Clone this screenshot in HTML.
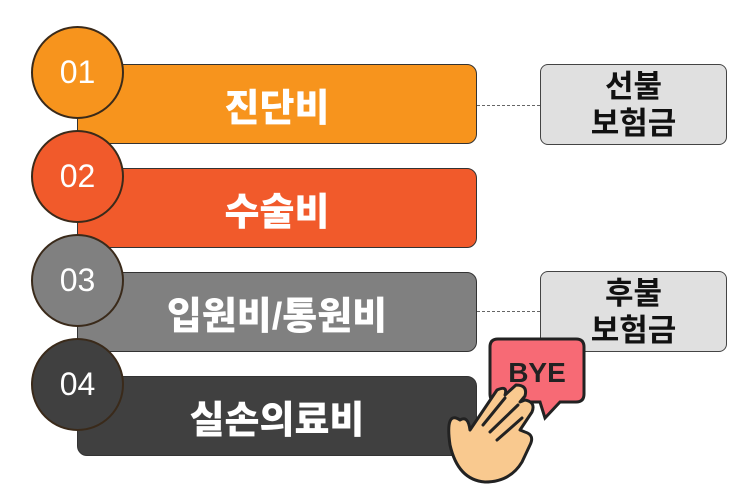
<!DOCTYPE html>
<html><head><meta charset="utf-8"><style>
body{margin:0;width:743px;height:499px;background:#fff;overflow:hidden;position:relative;font-family:"Liberation Sans","Noto Sans CJK KR",sans-serif}
.bar{position:absolute;left:77px;width:400px;height:80px;border:1.5px solid #333;border-radius:10px;box-sizing:border-box;color:#fff;font-weight:900;font-size:38px;display:flex;align-items:center;justify-content:center;padding-left:0}
.c{position:absolute;left:31px;width:93px;height:93px;border-radius:50%;border:2px solid #3a2a1a;box-sizing:border-box;color:#fff;font-size:32px;display:flex;align-items:center;justify-content:center;font-weight:normal}
.box{position:absolute;left:540px;width:187px;height:81px;background:#e0e0e0;border:1.5px solid #444;border-radius:8px;box-sizing:border-box;font-size:31px;line-height:37px;text-align:center;display:flex;align-items:center;justify-content:center;color:#111;font-weight:bold}
.d{position:absolute;left:477px;width:63px;border-top:1.5px dashed #666}
</style></head><body>
<div class="bar" style="top:64px;background:#F7941D">진단비</div>
<div class="bar" style="top:168px;background:#F15A2B">수술비</div>
<div class="bar" style="top:272px;background:#808080">입원비/통원비</div>
<div class="bar" style="top:376px;background:#404040">실손의료비</div>
<div class="c" style="top:26px;background:#F7941D">01</div>
<div class="c" style="top:130px;background:#F15A2B">02</div>
<div class="c" style="top:234px;background:#808080">03</div>
<div class="c" style="top:338px;background:#404040">04</div>
<div class="d" style="top:105px"></div>
<div class="d" style="top:311px"></div>
<div class="box" style="top:64px">선불<br>보험금</div>
<div class="box" style="top:271px">후불<br>보험금</div>
<svg style="position:absolute;left:0;top:0" width="743" height="499">
<path d="M498 339 H576 Q584 339 584 347 V394 Q584 402 576 402 H560 L545 418 L540 402 H498 Q490 402 490 394 V347 Q490 339 498 339Z" fill="#F76A75" stroke="#222" stroke-width="3"/>
<text x="537" y="382" font-family="Liberation Sans" font-size="28" font-weight="bold" text-anchor="middle" fill="#222">BYE</text>
<path d="M460 420 Q445 410 450 445 Q458 480 485 482 Q510 482 522 462 L530 445 Q535 435 525 432 L520 430 L532 412 Q536 402 525 400 L520 402 L525 396 Q528 385 516 385 L505 395 Q508 385 497 390 L470 430 Q468 415 460 420Z" fill="#F9C98F" stroke="#222" stroke-width="3" stroke-linejoin="round"/>
<path d="M483 425 L505 398 M490 432 L518 405 M497 440 L522 418" stroke="#222" stroke-width="3" fill="none" stroke-linecap="round"/>
</svg>
</body></html>
